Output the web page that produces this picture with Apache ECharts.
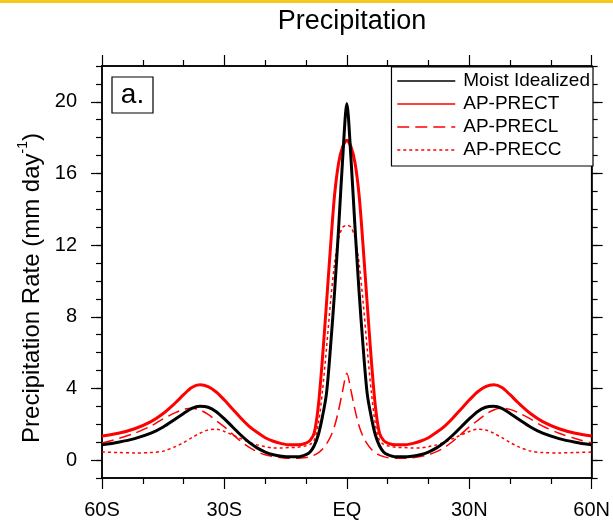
<!DOCTYPE html>
<html>
<head>
<meta charset="utf-8">
<script src="https://cdn.jsdelivr.net/npm/echarts@6/dist/echarts.min.js"></script>
<style>
  html, body { margin: 0; padding: 0; background: #fff; }
  #chart { width: 613px; height: 520px; }
</style>
</head>
<body>
<div id="chart"></div>
<script>
// Latitude (degrees, negative = south)
const lats = [-60,-56,-52,-48,-45,-42,-40,-38,-36,-34,-32,-30,-28,-26,-24,-22,-20,-18,-16,-14,-12,-10,-9,-8,-7,-6,-5,-4,-3,-2,-1,
  0,
  1,2,3,4,5,6,7,8,9,10,12,14,16,18,20,22,24,26,28,30,32,34,36,38,40,42,45,48,52,56,60];

// Zonal-mean precipitation rate (mm/day)
const moistIdealized = [0.85,1.0,1.2,1.5,1.85,2.3,2.6,2.88,3.0,2.95,2.7,2.3,1.85,1.4,1.0,0.68,0.45,0.3,0.22,0.18,0.18,0.3,0.45,0.8,1.4,2.4,3.7,6.3,9.4,13.0,16.9,
  19.9,
  16.9,13.0,9.4,6.3,3.7,2.4,1.4,0.8,0.45,0.3,0.18,0.18,0.22,0.3,0.45,0.68,1.0,1.4,1.85,2.3,2.7,2.95,3.0,2.88,2.6,2.3,1.85,1.5,1.2,1.0,0.85];

const apPrect = [1.35,1.5,1.75,2.15,2.6,3.2,3.65,4.05,4.2,4.1,3.8,3.35,2.85,2.35,1.9,1.55,1.25,1.05,0.92,0.85,0.85,0.95,1.1,1.5,3.0,5.6,8.7,11.9,14.8,16.6,17.5,
  17.85,
  17.5,16.6,14.8,11.9,8.7,5.6,3.0,1.5,1.1,0.95,0.85,0.85,0.92,1.05,1.25,1.55,1.9,2.35,2.85,3.35,3.8,4.1,4.2,4.05,3.65,3.2,2.6,2.15,1.75,1.5,1.35];

const apPrecl = [0.95,1.2,1.5,1.9,2.3,2.65,2.83,2.9,2.8,2.55,2.2,1.85,1.45,1.05,0.72,0.47,0.3,0.2,0.13,0.1,0.1,0.14,0.2,0.28,0.4,0.6,0.9,1.3,1.9,2.8,3.9,
  4.85,
  3.9,2.8,1.9,1.3,0.9,0.6,0.4,0.28,0.2,0.14,0.1,0.1,0.13,0.2,0.3,0.47,0.72,1.05,1.45,1.85,2.2,2.55,2.8,2.9,2.83,2.65,2.3,1.9,1.5,1.2,0.95];

const apPrecc = [0.45,0.42,0.4,0.42,0.5,0.75,0.98,1.25,1.5,1.68,1.72,1.6,1.4,1.2,1.0,0.85,0.75,0.68,0.68,0.7,0.72,0.8,0.88,1.1,2.0,3.8,6.2,8.8,11.0,12.4,13.0,
  13.1,
  13.0,12.4,11.0,8.8,6.2,3.8,2.0,1.1,0.88,0.8,0.72,0.7,0.68,0.68,0.75,0.85,1.0,1.2,1.4,1.6,1.72,1.68,1.5,1.25,0.98,0.75,0.5,0.42,0.4,0.42,0.45];

const seriesNames = ['Moist Idealized', 'AP-PRECT', 'AP-PRECL', 'AP-PRECC'];
const yMajorTicks = [0, 4, 8, 12, 16, 20];
const yMinorTicks = [-1,0,1,2,3,4,5,6,7,8,9,10,11,12,13,14,15,16,17,18,19,20,21,22];
const latLabels = { '-60': '60S', '-30': '30S', '0': 'EQ', '30': '30N', '60': '60N' };

const FONT = '"Liberation Sans", Arial, Helvetica, sans-serif';
const pair = vals => lats.map((x, i) => [x, vals[i]]);

const chart = echarts.init(document.getElementById('chart'), null, { renderer: 'canvas' });

const xCommon = {
  type: 'value', min: -60, max: 60, interval: 30,
  axisLine: { show: true, onZero: false, lineStyle: { color: '#000', width: 1.5 } },
  axisTick: { show: true, inside: false, length: 11, lineStyle: { color: '#000', width: 1.2 } },
  minorTick: { show: true, splitNumber: 3, length: 6, lineStyle: { color: '#000', width: 1.2 } },
  splitLine: { show: false }, minorSplitLine: { show: false }
};

const yMajor = (pos, labels) => ({
  type: 'value', min: -1, max: 22, position: pos, offset: 0,
  axisLine: { show: true, onZero: false, lineStyle: { color: '#000', width: 1.5 } },
  axisTick: { show: true, inside: false, length: 11, customValues: yMajorTicks, lineStyle: { color: '#000', width: 1.2 } },
  axisLabel: labels ? { show: true, customValues: yMajorTicks, margin: 25, fontSize: 20, color: '#000', fontFamily: FONT } : { show: false },
  splitLine: { show: false }
});
const yMinor = (pos) => ({
  type: 'value', min: -1, max: 22, position: pos, offset: 0,
  axisLine: { show: false, onZero: false },
  axisTick: { show: true, inside: false, length: 6, customValues: yMinorTicks, lineStyle: { color: '#000', width: 1.2 } },
  axisLabel: { show: false },
  splitLine: { show: false }
});

const option = {
  backgroundColor: '#fff',
  animation: false,
  title: {
    text: 'Precipitation', left: 347, top: 3, textAlign: 'center',
    textStyle: { fontSize: 27, fontWeight: 'normal', color: '#000', fontFamily: FONT }
  },
  grid: { left: 102, right: 20, top: 66, bottom: 42, show: true, borderColor: '#000', borderWidth: 1.5, containLabel: false },
  legend: {
    data: seriesNames, orient: 'vertical', right: 20, top: 67,
    backgroundColor: '#fff', borderColor: '#000', borderWidth: 1.2, borderRadius: 0,
    padding: [3, 3, 5, 5], itemGap: 1, itemWidth: 58, itemHeight: 14,
    lineStyle: { width: 1.6 },
    itemStyle: { opacity: 0 },
    textStyle: { fontSize: 19, lineHeight: 22, color: '#000', fontFamily: FONT, padding: [0, 0, 0, 3] }
  },
  xAxis: [
    Object.assign({}, xCommon, {
      position: 'bottom',
      axisLabel: { show: true, margin: 22, fontSize: 20, color: '#000', fontFamily: FONT,
        formatter: v => latLabels[String(v)] || '' }
    }),
    Object.assign({}, xCommon, { position: 'top', axisLabel: { show: false } })
  ],
  yAxis: [yMajor('left', true), yMinor('left'), yMajor('right', false), yMinor('right')],
  graphic: [
    { type: 'rect', shape: { x: 0, y: 0, width: 613, height: 3 }, style: { fill: '#f8c820' }, silent: true },
    { type: 'rect', shape: { x: 112, y: 77, width: 41, height: 36 }, style: { fill: '#fff', stroke: '#000', lineWidth: 1.2 }, z: 10 },
    { type: 'text', x: 132.5, y: 95, z: 11,
      style: { text: 'a.', fontSize: 28, fontFamily: FONT, fill: '#000', align: 'center', verticalAlign: 'middle' } },
    { type: 'text', x: 30, y: 288, rotation: Math.PI / 2, z: 11,
      style: {
        text: '{a|Precipitation Rate (mm day}{s|-1}{a|)}',
        align: 'center', verticalAlign: 'middle', fill: '#000',
        rich: {
          a: { fontSize: 24, fontFamily: FONT, lineHeight: 28, verticalAlign: 'bottom', fill: '#000' },
          s: { fontSize: 14, fontFamily: FONT, lineHeight: 14, verticalAlign: 'top', fill: '#000' }
        }
      }
    }
  ],
  series: [
    { name: seriesNames[0], type: 'line', data: pair(moistIdealized), symbol: 'none', smooth: 0.3, z: 4,
      lineStyle: { color: '#000', width: 3 }, itemStyle: { color: '#000' } },
    { name: seriesNames[1], type: 'line', data: pair(apPrect), symbol: 'none', smooth: 0.3, z: 3,
      lineStyle: { color: '#ff0000', width: 3 }, itemStyle: { color: '#ff0000' } },
    { name: seriesNames[2], type: 'line', data: pair(apPrecl), symbol: 'none', smooth: 0.3, z: 2,
      lineStyle: { color: '#ff0000', width: 1.5, type: [12, 6] }, itemStyle: { color: '#ff0000' } },
    { name: seriesNames[3], type: 'line', data: pair(apPrecc), symbol: 'none', smooth: 0.3, z: 2,
      lineStyle: { color: '#ff0000', width: 1.5, type: [3, 3] }, itemStyle: { color: '#ff0000' } }
  ]
};

chart.setOption(option);
</script>
</body>
</html>
